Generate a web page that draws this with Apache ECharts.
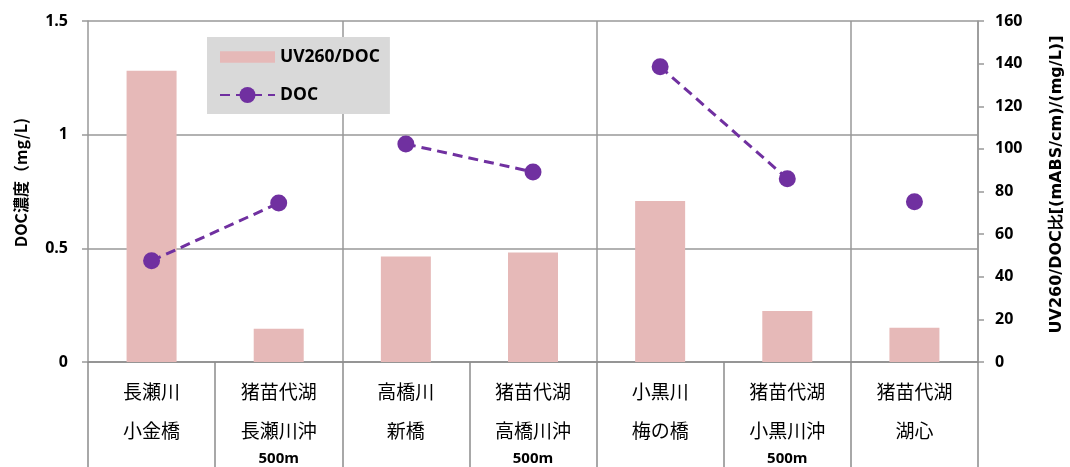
<!DOCTYPE html>
<html>
<head>
<meta charset="utf-8">
<script src="https://cdn.jsdelivr.net/npm/echarts@6/dist/echarts.min.js"></script>
<style>
  html, body { margin: 0; padding: 0; background: #fff; }
  #chart { width: 1070px; height: 467px; }
</style>
</head>
<body>
<div id="chart"></div>
<script>
// Sampling sites: river / lake name, point name, distance offshore
const siteNames = ['長瀬川', '猪苗代湖', '高橋川', '猪苗代湖', '小黒川', '猪苗代湖', '猪苗代湖'];
const sitePoints = ['小金橋', '長瀬川沖', '新橋', '高橋川沖', '梅の橋', '小黒川沖', '湖心'];
const siteDistance = ['', '500m', '', '500m', '', '500m', ''];

// UV260/DOC ratio [(mABS/cm)/(mg/L)] — right axis
const uvDocRatio = [136.6, 15.6, 49.5, 51.4, 75.6, 23.9, 16.1];
// DOC concentration (mg/L) — left axis
const docConc = [0.445, 0.699, 0.959, 0.836, 1.299, 0.806, 0.705];
// River mouth and its offshore point are joined by a line
const siteGroups = [[0, 1], [2, 3], [4, 5], [6]];

const leftTicks = { min: 0, max: 1.5, interval: 0.5 };
const rightTicks = { min: 0, max: 160, interval: 20 };

const categories = siteNames.map((n, i) => n + '\n' + sitePoints[i]);
const groupStarts = siteGroups.slice(1).map(g => g[0]);

const lineColor = '#7030A0';
const barColor = '#E6B9B8';
const axisGray = '#999999';
const latin = '"Open Sans", "Noto Sans", sans-serif';
const wide = '"DejaVu Sans", "Noto Sans", sans-serif';
const cjk = '"Noto Sans CJK JP", "Noto Sans", sans-serif';

const docSeries = siteGroups.map(group => ({
  name: 'DOC',
  type: 'line',
  yAxisIndex: 0,
  data: docConc.map((v, i) => (group.includes(i) ? v : null)),
  symbol: 'circle',
  symbolSize: 17,
  showSymbol: true,
  connectNulls: false,
  itemStyle: { color: lineColor },
  lineStyle: { color: lineColor, width: 3, type: [10, 6] },
  z: 5
}));

const chart = echarts.init(document.getElementById('chart'), null, { renderer: 'canvas' });
chart.setOption({
  animation: false,
  grid: { left: 88, right: 92, top: 21, bottom: 105, containLabel: false, outerBoundsMode: 'none' },
  legend: {
    left: 207,
    top: 37,
    orient: 'vertical',
    backgroundColor: '#D9D9D9',
    padding: [11, 10, 10, 12],
    itemGap: 20,
    itemWidth: 55,
    itemHeight: 20,
    textStyle: { fontFamily: latin, fontWeight: 'bold', fontSize: 17.5, color: '#000' },
    data: [
      { name: 'UV260/DOC', icon: 'path://M0,0H53V11H0Z' },
      { name: 'DOC' }
    ]
  },
  xAxis: {
    type: 'category',
    data: categories,
    axisLine: { lineStyle: { color: '#8c8c8c', width: 1.5 } },
    axisTick: { show: true, interval: 0, length: 105, lineStyle: { color: '#8c8c8c', width: 1.5 } },
    splitLine: {
      show: true,
      interval: (idx) => groupStarts.includes(idx),
      lineStyle: { color: axisGray, width: 1.5 }
    },
    axisLabel: {
      interval: 0,
      margin: 10,
      formatter: (value, idx) => {
        let s = '{a|' + siteNames[idx] + '}\n{a|' + sitePoints[idx] + '}';
        if (siteDistance[idx]) s += '\n{b|' + siteDistance[idx] + '}';
        return s;
      },
      rich: {
        a: { fontFamily: cjk, fontSize: 19, lineHeight: 39, color: '#000' },
        b: { fontFamily: latin, fontSize: 15, fontWeight: 'bold', lineHeight: 18, color: '#000' }
      }
    }
  },
  yAxis: [
    {
      type: 'value',
      position: 'left',
      min: leftTicks.min,
      max: leftTicks.max,
      interval: leftTicks.interval,
      name: 'DOC濃度（mg/L)',
      nameLocation: 'middle',
      nameRotate: 90,
      nameGap: 59,
      nameTextStyle: { fontFamily: cjk, fontWeight: 'bold', fontSize: 16, color: '#000', padding: [0, 0, 0, 18] },
      axisLine: { show: true, lineStyle: { color: axisGray, width: 1.5 } },
      axisTick: { show: true, length: 6, lineStyle: { color: axisGray, width: 1.5 } },
      splitLine: { show: true, lineStyle: { color: axisGray, width: 1.5 } },
      axisLabel: { margin: 20, fontFamily: latin, fontWeight: 'bold', fontSize: 16, color: '#000' }
    },
    {
      type: 'value',
      position: 'right',
      min: rightTicks.min,
      max: rightTicks.max,
      interval: rightTicks.interval,
      name: 'UV260/DOC比[(mABS/cm)/(mg/L)]',
      nameLocation: 'middle',
      nameRotate: 90,
      nameGap: 71,
      nameTextStyle: { fontFamily: wide, fontWeight: 'bold', fontSize: 16, color: '#000', padding: [0, 0, 0, 14] },
      axisLine: { show: true, lineStyle: { color: axisGray, width: 1.5 } },
      axisTick: { show: true, length: 6, lineStyle: { color: axisGray, width: 1.5 } },
      splitLine: { show: false },
      axisLabel: { margin: 17, fontFamily: latin, fontWeight: 'bold', fontSize: 16, color: '#000' }
    }
  ],
  series: [
    {
      name: 'UV260/DOC',
      type: 'bar',
      yAxisIndex: 1,
      data: uvDocRatio,
      barWidth: 50,
      itemStyle: { color: barColor },
      z: 2
    }
  ].concat(docSeries)
});
</script>
</body>
</html>
